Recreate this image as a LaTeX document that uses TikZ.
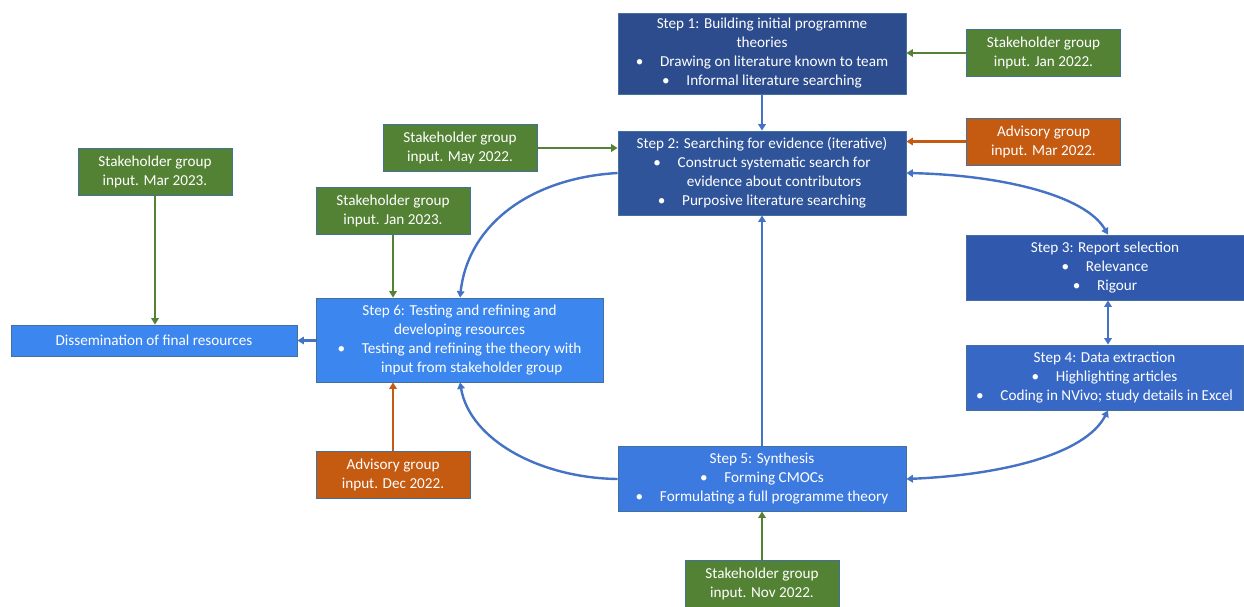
\documentclass[tikz,border=0pt]{standalone}
\usepackage{fontspec}
\setmainfont{Carlito}
\usetikzlibrary{arrows.meta}
\definecolor{sgreen}{HTML}{548235}
\definecolor{sorange}{HTML}{C55A11}
\definecolor{sborder}{HTML}{41719C}
\definecolor{cA}{HTML}{2C4C8D}
\definecolor{cB}{HTML}{2F5499}
\definecolor{cC}{HTML}{3059AE}
\definecolor{cD}{HTML}{3868C6}
\definecolor{cE}{HTML}{3D7AE0}
\definecolor{cF}{HTML}{3C86F0}
\definecolor{arrblue}{HTML}{4472C4}
\tikzset{
  box/.style={draw=sborder, line width=0.8pt, text=white, align=center, inner sep=0pt,
    font=\fontsize{15.2}{19}\selectfont},
  multi/.style={execute at begin node={\rule{0pt}{16pt}}},
  gbox/.style={box, multi, fill=sgreen, minimum width=154pt, minimum height=47pt},
  obox/.style={box, multi, fill=sorange, minimum width=154pt, minimum height=47pt},
  arr/.style={line width=2.2pt, -{Triangle[width=7.5pt,length=6.5pt]}},
  barr/.style={line width=2.4pt, arrblue, {Triangle[width=7.5pt,length=6.5pt]}-{Triangle[width=7.5pt,length=6.5pt]}},
  garr/.style={arr, sgreen},
  oarr/.style={arr, sorange},
  blarr/.style={arr, arrblue, line width=2.4pt},
}
\newcommand{\bul}{\textbullet\hspace{1.1em}}
\begin{document}
\begin{tikzpicture}[x=1pt,y=-1pt]
\useasboundingbox (0,0) rectangle (1244,607);

% step boxes
\node[box, multi, fill=cA, minimum width=288pt, minimum height=81pt] (s1) at (762,53.5)
  {Step 1: Building initial programme\\theories\\\bul Drawing on literature known to team\\\bul Informal literature searching};
\node[box, multi, fill=cB, minimum width=288pt, minimum height=84pt] (s2) at (762,173)
  {Step 2: Searching for evidence (iterative)\\\bul Construct systematic search for\\\hspace{1.6em}evidence about contributors\\\bul Purposive literature searching};
\node[box, multi, fill=cC, minimum width=278pt, minimum height=65pt] (s3) at (1105,267.5)
  {Step 3: Report selection\\\bul Relevance\\\bul Rigour};
\node[box, multi, fill=cD, minimum width=277pt, minimum height=65pt] (s4) at (1104.5,377.5)
  {Step 4: Data extraction\\\bul Highlighting articles\\\bul Coding in NVivo; study details in Excel};
\node[box, multi, fill=cE, minimum width=288pt, minimum height=65pt] (s5) at (762,478.5)
  {Step 5: Synthesis\\\bul Forming CMOCs\\\bul Formulating a full programme theory};
\node[box, multi, fill=cF, minimum width=287pt, minimum height=84pt] (s6) at (459.5,340)
  {Step 6: Testing and refining and\\developing resources\\\bul Testing and refining the theory with\\\hspace{1.6em}input from stakeholder group};
\node[box, fill=cF, minimum width=286pt, minimum height=31pt] (dis) at (154,340.5)
  {Dissemination of final resources};

% input boxes
\node[gbox] (g1) at (1043.5,53) {Stakeholder group\\input. Jan 2022.};
\node[obox] (o1) at (1043.5,141.5) {Advisory group\\input. Mar 2022.};
\node[gbox] (g2) at (460,148) {Stakeholder group\\input. May 2022.};
\node[gbox] (g3) at (155,172) {Stakeholder group\\input. Mar 2023.};
\node[gbox] (g4) at (393,211) {Stakeholder group\\input. Jan 2023.};
\node[obox] (o2) at (393,475) {Advisory group\\input. Dec 2022.};
\node[gbox] (g5) at (762,584) {Stakeholder group\\input. Nov 2022.};

% straight connectors
\draw[blarr] (s1.south) -- (s2.north);
\draw[garr] (g1.west) -- (g1.west -| s1.east);
\draw[oarr] (o1.west) -- (o1.west -| s2.east);
\draw[garr] (g2.east) -- (g2.east -| s2.west);
\draw[garr] (g4.south) -- (g4.south |- s6.north);
\draw[oarr] (o2.north) -- (o2.north |- s6.south);
\draw[garr] (g5.north) -- (s5.south);
\draw[garr] (g3.south) -- (g3.south |- dis.north);
\draw[blarr] (s6.west |- dis.east) -- (dis.east);
\draw[blarr] (s5.north) -- (s2.south);
\draw[barr] (s3.south -| 1108,0) -- (s4.north -| 1108,0);

% curved connectors
\coordinate (s2l) at (s2.west |- 0,173);
\coordinate (s2r) at (s2.east |- 0,173);
\coordinate (s5l) at (s5.west |- 0,479);
\coordinate (s5r) at (s5.east |- 0,479);
\coordinate (s6t) at (s6.north -| 460,0);
\coordinate (s6b) at (s6.south -| 460,0);
\coordinate (s3t) at (s3.north -| 1108,0);
\coordinate (s4b) at (s4.south -| 1108,0);
\draw[blarr] (s2l) .. controls (530,178) and (468,225) .. (s6t);
\draw[blarr] (s5l) .. controls (540,478) and (470,440) .. (s6b);
\draw[barr] (s2r) .. controls (1000,175) and (1085,195) .. (s3t);
\draw[barr] (s4b) .. controls (1085,455) and (1000,475) .. (s5r);
\end{tikzpicture}
\end{document}
